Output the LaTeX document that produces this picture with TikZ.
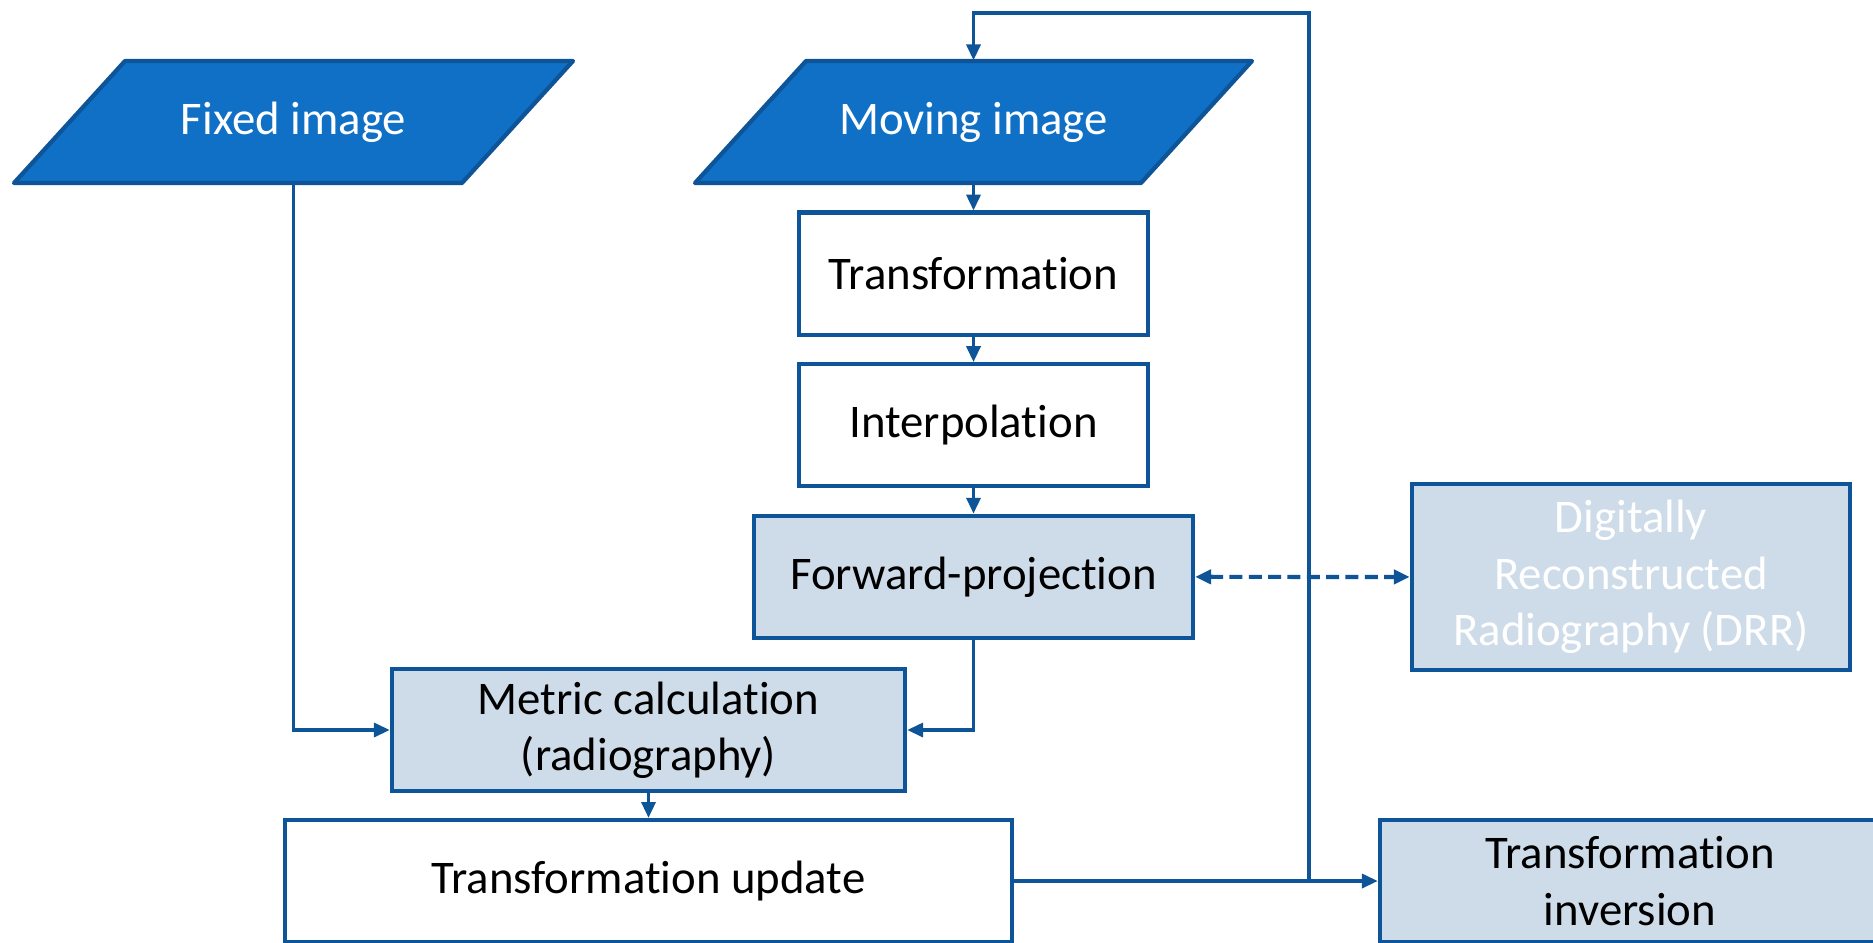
\documentclass[tikz,border=0pt]{standalone}
\usepackage{fontspec}
\setmainfont{Carlito}[Ligatures=NoCommon]
\usepackage{tikz}
\usetikzlibrary{arrows.meta,positioning}
\definecolor{edgeblue}{RGB}{14,84,152}
\definecolor{ioblue}{RGB}{16,112,198}
\definecolor{paleblue}{RGB}{206,220,233}

\tikzset{
  boxfont/.style={font={\fontsize{13.3}{16}\selectfont}},
  inout/.style={draw=edgeblue, fill=ioblue, line width=1.2pt, line join=round},
  iotext/.style={boxfont, text=white, minimum height=1.22cm, inner sep=0pt},
  proc/.style={boxfont, draw=edgeblue, fill=white, line width=1.2pt, minimum height=1.22cm, align=center},
  shade/.style={proc, fill=paleblue},
  flow/.style={->, draw=edgeblue, line width=0.9pt},
}

\begin{document}
\begin{tikzpicture}[x=0.01cm,y=-0.01cm,node distance=1.515cm,>={Triangle[length=4.5pt,width=4pt]}]
  \useasboundingbox (0,0) rectangle (1873,942);

  % input images
  \filldraw[inout] (14,183) -- (125,61) -- (573,61) -- (462,183) -- cycle;
  \filldraw[inout] (695,183) -- (806,61) -- (1252,61) -- (1141,183) -- cycle;
  \node [iotext] (fixed) at (293.5,122) {Fixed image};
  \node [iotext] (moving) at (973.5,122) {Moving image};

  \node [proc, minimum width=3.49cm] (trans) [below of = moving] {Transformation};
  \node [proc, minimum width=3.49cm] (interp) [below of = trans] {Interpolation};
  \node [shade, minimum width=4.39cm] (fwd) [below of = interp] {Forward-projection};
  \node [shade, minimum width=4.38cm, minimum height=1.86cm, text=white] (drr) at (1631,577) {Digitally\\Reconstructed\\Radiography (DRR)};
  \node [shade, minimum width=5.13cm] (metric) at (648.5,730) {Metric calculation\\(radiography)};
  \node [proc, minimum width=7.27cm] (update) at (648.5,881) {Transformation update};
  \node [shade, minimum width=5cm] (inv) at (1630,881) {Transformation\\inversion};
  \coordinate (looptop) at (1309,13);

  \draw[flow] (moving) -- (trans);
  \draw[flow] (trans) -- (interp);
  \draw[flow] (interp) -- (fwd);
  \draw[flow] (fixed) |- (metric);
  \draw[flow] (fwd) |- (metric);
  \draw[flow] (metric) -- (update);
  \draw[flow] (update) -- (inv);
  \draw[flow] (update.east -| looptop) -- (looptop) -| (moving);
  \draw[flow, <->, line width=1.2pt, dash pattern=on 3.7pt off 1.8pt] (fwd) -- (drr);
\end{tikzpicture}
\end{document}
